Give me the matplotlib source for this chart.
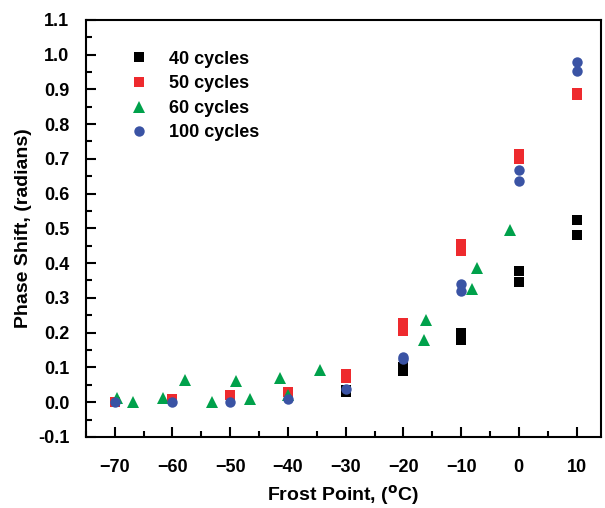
import matplotlib
matplotlib.use("Agg")
import matplotlib.pyplot as plt
from matplotlib.ticker import MultipleLocator

plt.rcParams['font.family'] = ['Liberation Sans', 'DejaVu Sans']
plt.rcParams['font.weight'] = 'bold'
plt.rcParams['mathtext.fontset'] = 'custom'
plt.rcParams['mathtext.rm'] = 'Liberation Sans:bold'
plt.rcParams['mathtext.bf'] = 'Liberation Sans:bold'

# frost point (C) vs phase shift (radians) for each cycle count
x40 = [-30, -30, -20, -20, -10, -10, 0, 0, 10, 10]
y40 = [0.03, 0.035, 0.09, 0.10, 0.18, 0.20, 0.345, 0.378, 0.482, 0.524]

x50 = [-70, -60, -50, -40, -30, -30, -20, -20, -10, -10, 0, 0, 10, 10]
y50 = [0.0, 0.01, 0.02, 0.03, 0.07, 0.08, 0.205, 0.228, 0.435, 0.455, 0.70, 0.715, 0.883, 0.89]

x60 = [-69.6, -66.9, -61.7, -57.9, -53.2, -49.0, -46.5, -41.3, -40.0, -34.4,
       -16.5, -16.0, -8.1, -7.2, -1.5]
y60 = [0.012, 0.0, 0.012, 0.063, 0.0, 0.062, 0.01, 0.07, 0.02, 0.093,
       0.18, 0.236, 0.325, 0.387, 0.496]

x100 = [-70, -60, -50, -40, -30, -20, -20, -10, -10, 0, 0, 10, 10]
y100 = [0.0, 0.0, 0.0, 0.01, 0.037, 0.125, 0.13, 0.32, 0.34, 0.635, 0.667, 0.952, 0.98]

xticks = [-70, -60, -50, -40, -30, -20, -10, 0, 10]
yticks = [-0.1, 0.0, 0.1, 0.2, 0.3, 0.4, 0.5, 0.6, 0.7, 0.8, 0.9, 1.0, 1.1]


def main():
    fig = plt.figure(figsize=(6.05, 5.08), dpi=100)
    ax = fig.add_axes([0.142, 0.14, 0.851, 0.821])

    ax.plot(x40, y40, 's', color='black', ms=7, mew=0, label='40 cycles')
    ax.plot(x50, y50, 's', color='#ee2a2e', ms=7, mew=0, label='50 cycles')
    ax.plot(x60, y60, '^', color='#00a14b', ms=9, mew=0, label='60 cycles')
    ax.plot(x100, y100, 'o', color='#3a53a4', ms=7.5, mew=0, label='100 cycles')

    ax.set_xlim(-75, 14.2)
    ax.set_ylim(-0.1, 1.1)
    ax.set_xticks(xticks)
    ax.set_yticks(yticks)
    ax.set_yticklabels(['%.1f' % v for v in yticks])
    ax.xaxis.set_minor_locator(MultipleLocator(5))
    ax.yaxis.set_minor_locator(MultipleLocator(0.05))
    ax.tick_params(which='both', direction='in', top=False, right=False,
                   width=1.5, labelsize=13)
    ax.tick_params(which='major', length=7)
    ax.tick_params(which='minor', length=4)
    ax.tick_params(axis='x', which='major', pad=16)
    ax.tick_params(axis='y', which='major', pad=12)
    for s in ax.spines.values():
        s.set_linewidth(1.5)

    ax.set_xlabel('Frost Point, ($^{\\mathsf{o}}$C)', fontsize=14, fontweight='bold', labelpad=5)
    ax.set_ylabel('Phase Shift, (radians)', fontsize=14, fontweight='bold', labelpad=4)

    ax.legend(loc='upper left', bbox_to_anchor=(0.045, 0.965), frameon=False,
              fontsize=13, handletextpad=0.9, labelspacing=0.42,
              handlelength=1.5)

    fig.savefig('out.png', dpi=100)


if __name__ == "__main__":
    main()
